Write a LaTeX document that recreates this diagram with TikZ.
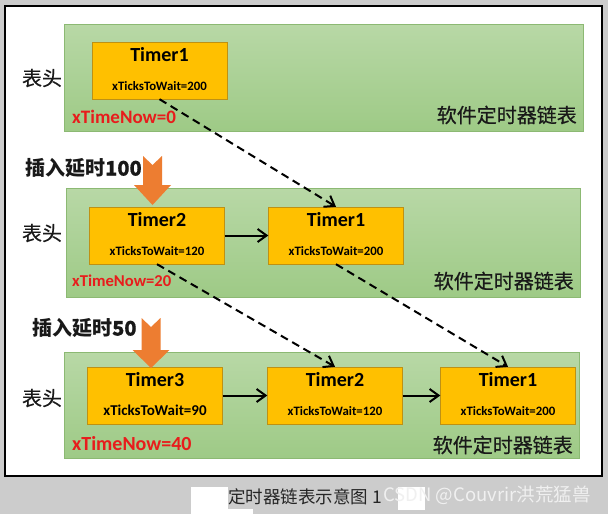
\documentclass[tikz,border=0pt]{standalone}
\usepackage{fontspec}
\setmainfont{Carlito}
\newfontfamily\cjk{Noto Sans CJK SC}
\newfontfamily\cjkmid{Noto Sans CJK SC}[FakeBold=0.6]
\usetikzlibrary{arrows.meta}
\definecolor{panelTop}{RGB}{184,216,166}
\definecolor{panelBot}{RGB}{158,202,134}
\definecolor{panelEdge}{RGB}{140,185,115}
\definecolor{boxFill}{RGB}{255,192,0}
\definecolor{boxEdge}{RGB}{190,145,20}
\definecolor{arrOrange}{RGB}{237,125,49}
\definecolor{nowRed}{RGB}{232,28,28}
\tikzset{
  panel/.style={draw=panelEdge, top color=panelTop, bottom color=panelBot, inner sep=0pt},
  tbox/.style={draw=boxEdge, fill=boxFill, minimum width=135pt, minimum height=57pt, inner sep=0pt},
  ttl/.style={inner sep=0pt, font=\fontsize{20}{20}\selectfont\bfseries},
  link/.style={line width=2pt, -{Straight Barb[length=9pt,width=13pt]}},
  dashlink/.style={link, dash pattern=on 8pt off 5pt},
  cjktext/.style={inner sep=0pt, text=black!90, font=\cjkmid\fontsize{20}{20}\selectfont},
}
\begin{document}
\begin{tikzpicture}[x=1pt,y=-1pt]
  \useasboundingbox (0,0) rectangle (608,514);
  \fill[gray!40] (0,0) rectangle (608,514);
  \draw[line width=2pt, fill=white] (5,6) rectangle (602,476);
  % 三行链表底板
  \node[panel, minimum width=519pt, minimum height=107pt] (p1) at (323.5,77.5) {};
  \node[panel, minimum width=514pt, minimum height=109pt] (p2) at (323,242.5) {};
  \node[panel, minimum width=515pt, minimum height=106pt] (p3) at (321.5,405) {};
  % 定时器方框
  \foreach \n/\x/\y/\tn/\tk/\fs in {r1t1/159.5/70.5/1/200/12.8,
      r2t2/157/235.5/2/120/12.8, r2t1/336/235.5/1/200/12.8,
      r3t3/155/395.5/3/90/15, r3t2/335/395.5/2/120/12.8, r3t1/508/395.5/1/200/12.8}
  {
    \node[tbox] (\n) at (\x,\y) {};
    \node[ttl] (\n-ttl) at ([yshift=-13pt]\n.north) {Timer\tn};
    \node[inner sep=0pt, font=\fontsize{\fs}{\fs}\selectfont\bfseries] (\n-tks)
      at ([yshift=13.5pt]\n.south) {xTicksToWait=\tk};
  }
  \draw[link] (r2t2) -- (r2t1);
  \draw[link] (r3t3) -- (r3t2);
  \draw[link] (r3t2) -- (r3t1);
  \draw[dashlink] (r1t1.south) -- (r2t1.north);
  \draw[dashlink] (r2t2.south) -- (r3t2.north);
  \draw[dashlink] (r2t1.south) -- (r3t1.north);
  % 表头、当前时间、链表名
  \foreach \r/\y in {1/78, 2/233, 3/398}
    \node[cjktext] (head\r) at (42,\y) {表头};
  \foreach \r/\y/\v/\fs in {1/117/0/19, 2/281/20/16.6, 3/444/40/20}
    \node[inner sep=0pt, anchor=west, text=nowRed, font=\fontsize{\fs}{\fs}\selectfont\bfseries]
      (now\r) at (72,\y) {xTimeNow=\v};
  \foreach \r/\x/\y in {1/577/115, 2/574/281, 3/573/445}
    \node[cjktext, anchor=east] (name\r) at (\x,\y) {软件定时器链表};
  % 橙色插入箭头
  \foreach \cx/\top/\base/\tip in {152.5/156/185/205, 151/318/350/368}
    \fill[arrOrange] (\cx-9.5,\top) -- (\cx,\top+9) -- (\cx+9.5,\top) -- (\cx+9.5,\base)
      -- (\cx+18.5,\base) -- (\cx,\tip) -- (\cx-18.5,\base) -- (\cx-9.5,\base) -- cycle;
  \node[cjktext, anchor=west] (ins1) at (25,168) {{\cjk\bfseries 插入延时}{\bfseries 100}};
  \node[cjktext, anchor=west] (ins2) at (32,328) {{\cjk\bfseries 插入延时}{\bfseries 50}};
  % 图注
  \fill[white] (191,487) rectangle (228,514);
  \fill[white] (191,509) rectangle (253,514);
  \fill[white] (398,487) rectangle (425,510);
  \node[cjktext, anchor=west, text=black!85, font=\cjk\fontsize{17.5}{18}\selectfont] (cap) at (228,497) {定时器链表示意图 1};
  \node[inner sep=0pt, anchor=west, text=white!88!gray, font=\cjk\fontsize{18.5}{19}\selectfont] (mark) at (383,495) {CSDN @Couvrir洪荒猛兽};
\end{tikzpicture}
\end{document}
